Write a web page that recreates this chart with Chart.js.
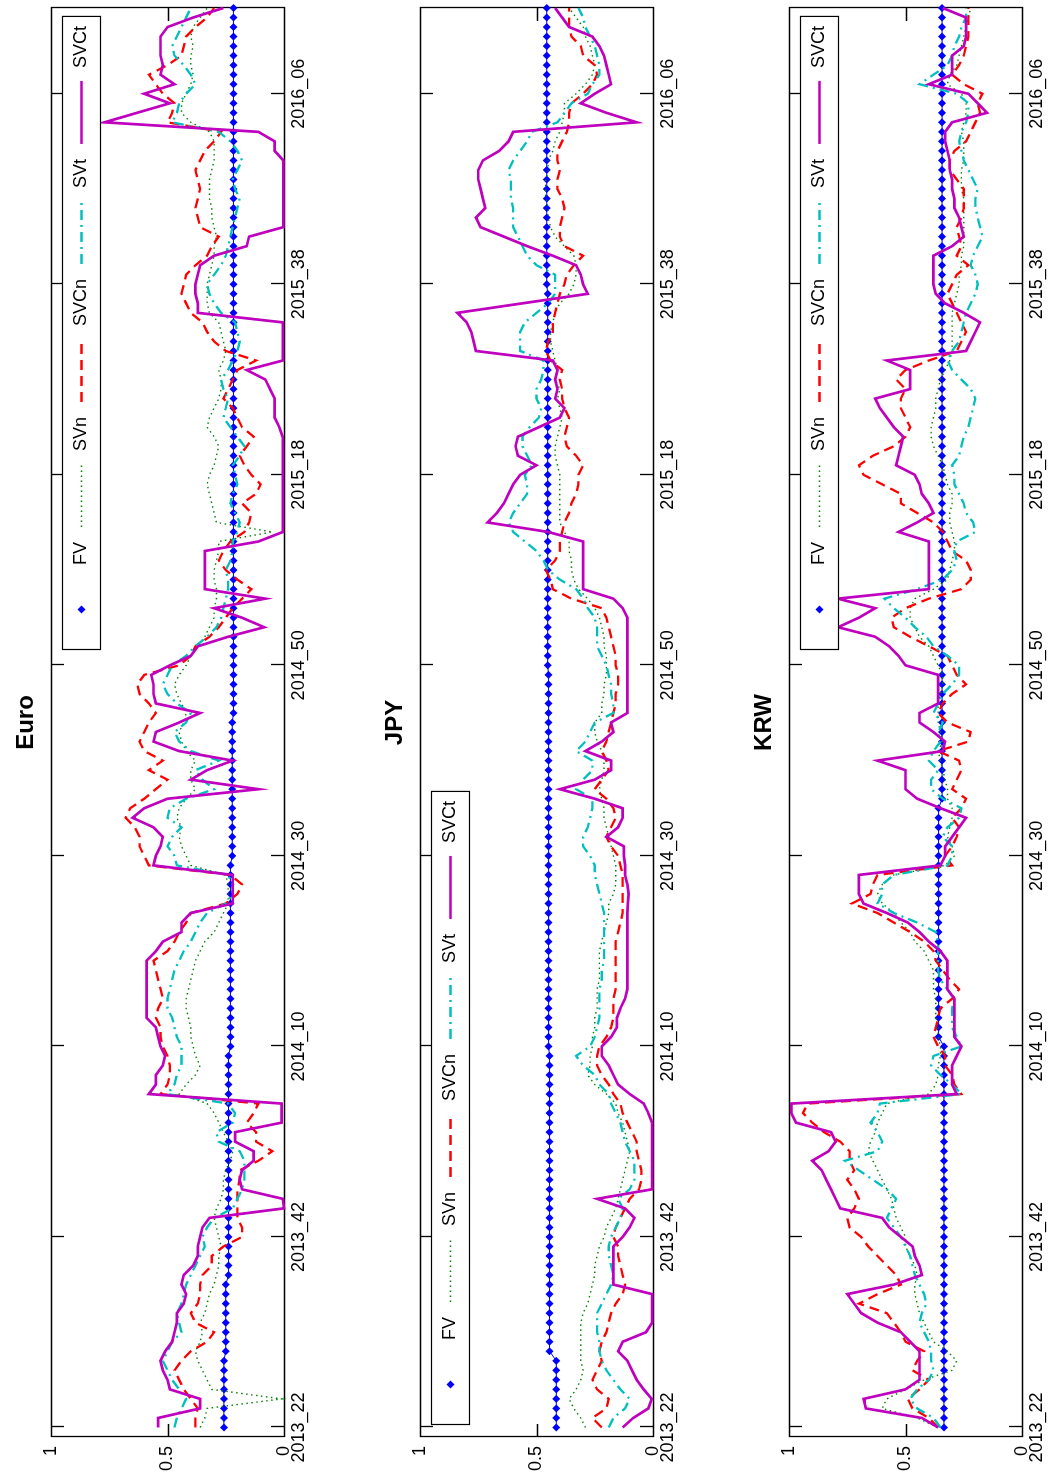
<!DOCTYPE html>
<html>
<head>
<meta charset="utf-8">
<script src="https://cdn.jsdelivr.net/npm/chart.js@4.4.1/dist/chart.umd.min.js"></script>
<style>
  html, body { margin: 0; padding: 0; background: #fff; overflow: hidden; width: 1057px; height: 1479px; }
  /* the figure is laid out landscape and turned a quarter turn counter-clockwise */
  #figure { position: absolute; left: 0; top: 1479px; width: 1479px; height: 1057px;
            transform-origin: 0 0; transform: rotate(-90deg); background: #fff; }
  #figure canvas { position: absolute; left: 0; }
</style>
</head>
<body>
<div id="figure">
  <canvas id="cEuro" width="1479" height="350" style="top:0px"></canvas>
  <canvas id="cJPY"  width="1479" height="350" style="top:369px"></canvas>
  <canvas id="cKRW"  width="1479" height="350" style="top:738px"></canvas>
</div>
<script>
// ---- weekly sample index and axis labels ----
const weekIndex = Array.from({ length: 150 }, (_, k) => k + 1);
const tickIndex = [1, 21, 41, 61, 81, 101, 121, 141];
const tickLabels = ['2013_22', '2013_42', '2014_10', '2014_30', '2014_50', '2015_18', '2015_38', '2016_06'];
const yTickValues = [0, 0.5, 1];
const yTickLabels = ['0', '0.5', '1'];
const seriesNames = ['FV', 'SVn', 'SVCn', 'SVt', 'SVCt'];

// ---- Euro ----
const euroFV = [
0.258,0.258,0.258,0.258,0.258,0.258,0.258,0.258,0.250,0.250,
0.250,0.250,0.250,0.250,0.250,0.250,0.238,0.238,0.238,0.238,
0.238,0.238,0.238,0.238,0.238,0.238,0.238,0.238,0.238,0.238,
0.238,0.238,0.238,0.238,0.238,0.238,0.238,0.238,0.238,0.238,
0.230,0.230,0.230,0.230,0.230,0.230,0.230,0.230,0.230,0.230,
0.230,0.230,0.230,0.230,0.230,0.230,0.230,0.230,0.230,0.230,
0.222,0.222,0.222,0.222,0.222,0.222,0.222,0.222,0.222,0.222,
0.222,0.222,0.222,0.222,0.222,0.217,0.217,0.217,0.217,0.217,
0.217,0.217,0.217,0.217,0.217,0.217,0.217,0.217,0.217,0.217,
0.217,0.217,0.217,0.217,0.217,0.217,0.217,0.217,0.217,0.217,
0.217,0.217,0.217,0.217,0.217,0.217,0.217,0.217,0.217,0.217,
0.217,0.217,0.217,0.217,0.217,0.217,0.217,0.217,0.217,0.217,
0.217,0.217,0.217,0.217,0.217,0.217,0.217,0.217,0.217,0.217,
0.217,0.217,0.217,0.217,0.217,0.217,0.217,0.217,0.217,0.217,
0.217,0.217,0.217,0.217,0.217,0.217,0.217,0.217,0.217,0.217];
const euroSVn = [
0.36,0.34,0.33,0.01,0.31,0.33,0.35,0.37,0.38,0.36,
0.35,0.36,0.34,0.33,0.32,0.30,0.29,0.28,0.28,0.27,
0.28,0.29,0.30,0.29,0.27,0.26,0.26,0.25,0.23,0.22,
0.24,0.26,0.28,0.30,0.33,0.45,0.42,0.38,0.36,0.38,
0.39,0.40,0.40,0.41,0.42,0.42,0.41,0.40,0.39,0.38,
0.36,0.34,0.30,0.28,0.26,0.24,0.24,0.24,0.25,0.40,
0.42,0.44,0.45,0.44,0.46,0.45,0.42,0.38,0.40,0.40,
0.38,0.42,0.44,0.45,0.43,0.42,0.44,0.46,0.47,0.45,
0.42,0.40,0.37,0.34,0.32,0.30,0.30,0.29,0.29,0.30,
0.30,0.29,0.28,0.28,0.05,0.29,0.30,0.31,0.32,0.33,
0.32,0.30,0.29,0.28,0.30,0.33,0.32,0.30,0.28,0.27,
0.27,0.28,0.26,0.25,0.26,0.27,0.28,0.32,0.33,0.33,
0.33,0.32,0.31,0.30,0.30,0.29,0.30,0.31,0.31,0.32,
0.32,0.32,0.31,0.30,0.30,0.30,0.32,0.40,0.44,0.44,
0.42,0.40,0.39,0.40,0.40,0.39,0.40,0.39,0.36,0.33];
const euroSVCn = [
0.38,0.38,0.37,0.40,0.43,0.45,0.47,0.44,0.40,0.33,
0.30,0.38,0.40,0.37,0.36,0.36,0.35,0.31,0.31,0.26,
0.18,0.18,0.20,0.20,0.20,0.20,0.19,0.19,0.11,0.05,
0.12,0.12,0.16,0.13,0.11,0.53,0.50,0.49,0.49,0.50,
0.52,0.53,0.53,0.55,0.54,0.52,0.53,0.54,0.55,0.56,
0.50,0.47,0.45,0.42,0.40,0.25,0.20,0.18,0.23,0.58,
0.60,0.62,0.62,0.64,0.68,0.66,0.60,0.55,0.50,0.58,
0.52,0.60,0.62,0.60,0.58,0.55,0.58,0.62,0.63,0.60,
0.45,0.40,0.38,0.32,0.28,0.25,0.22,0.18,0.14,0.20,
0.25,0.28,0.26,0.23,0.17,0.15,0.14,0.18,0.12,0.10,
0.14,0.17,0.19,0.16,0.13,0.18,0.20,0.22,0.26,0.24,
0.22,0.20,0.12,0.25,0.30,0.33,0.35,0.40,0.42,0.44,
0.43,0.42,0.38,0.33,0.31,0.28,0.36,0.37,0.38,0.37,
0.36,0.37,0.38,0.36,0.34,0.30,0.27,0.50,0.48,0.47,
0.52,0.55,0.58,0.50,0.44,0.43,0.42,0.38,0.33,0.30];
const euroSVt = [
0.47,0.46,0.44,0.42,0.45,0.48,0.50,0.52,0.50,0.48,
0.44,0.45,0.46,0.44,0.43,0.42,0.40,0.38,0.36,0.34,
0.35,0.33,0.30,0.22,0.20,0.18,0.17,0.17,0.17,0.19,
0.28,0.29,0.22,0.21,0.24,0.50,0.47,0.46,0.44,0.44,
0.44,0.46,0.47,0.48,0.50,0.50,0.49,0.48,0.47,0.45,
0.43,0.40,0.38,0.36,0.33,0.25,0.22,0.22,0.24,0.46,
0.47,0.50,0.48,0.44,0.50,0.49,0.42,0.30,0.35,0.38,
0.28,0.40,0.45,0.47,0.42,0.40,0.46,0.50,0.52,0.50,
0.48,0.42,0.38,0.33,0.29,0.27,0.26,0.25,0.24,0.24,
0.25,0.23,0.22,0.22,0.20,0.19,0.21,0.23,0.22,0.20,
0.21,0.22,0.19,0.17,0.20,0.23,0.26,0.25,0.24,0.26,
0.27,0.24,0.22,0.20,0.19,0.20,0.21,0.27,0.30,0.32,
0.33,0.30,0.27,0.25,0.24,0.23,0.22,0.21,0.20,0.19,
0.21,0.22,0.20,0.18,0.20,0.23,0.28,0.48,0.46,0.45,
0.42,0.38,0.40,0.43,0.47,0.48,0.46,0.44,0.42,0.40];
const euroSVCt = [
0.54,0.54,0.36,0.36,0.49,0.50,0.52,0.53,0.51,0.48,
0.47,0.46,0.46,0.43,0.42,0.44,0.43,0.39,0.37,0.37,
0.36,0.35,0.32,0.00,0.005,0.18,0.19,0.18,0.13,0.13,
0.21,0.21,0.01,0.01,0.01,0.58,0.55,0.55,0.52,0.51,
0.53,0.54,0.55,0.59,0.59,0.59,0.59,0.59,0.59,0.59,
0.55,0.52,0.44,0.44,0.40,0.22,0.22,0.22,0.22,0.56,
0.55,0.53,0.52,0.56,0.65,0.60,0.50,0.11,0.40,0.33,
0.22,0.45,0.56,0.55,0.45,0.36,0.55,0.56,0.56,0.57,
0.49,0.40,0.37,0.24,0.085,0.18,0.30,0.08,0.34,0.34,
0.34,0.34,0.34,0.11,0.005,0.005,0.005,0.005,0.005,0.005,
0.005,0.005,0.005,0.005,0.006,0.02,0.04,0.04,0.04,0.06,
0.08,0.16,0.005,0.005,0.005,0.005,0.005,0.37,0.37,0.38,
0.38,0.37,0.36,0.30,0.16,0.15,0.003,0.003,0.003,0.003,
0.003,0.003,0.003,0.003,0.04,0.04,0.11,0.77,0.63,0.49,
0.60,0.47,0.53,0.52,0.53,0.53,0.53,0.50,0.39,0.26];

// ---- JPY ----
const jpyFV = [
0.415,0.415,0.415,0.415,0.415,0.415,0.415,0.415,0.444,0.444,
0.444,0.444,0.444,0.444,0.444,0.444,0.444,0.444,0.444,0.444,
0.444,0.444,0.444,0.444,0.444,0.444,0.444,0.444,0.444,0.444,
0.444,0.444,0.444,0.444,0.444,0.444,0.444,0.444,0.444,0.444,
0.448,0.448,0.448,0.448,0.448,0.448,0.448,0.448,0.448,0.448,
0.448,0.448,0.448,0.448,0.448,0.448,0.448,0.448,0.448,0.448,
0.448,0.448,0.448,0.448,0.448,0.448,0.448,0.448,0.448,0.448,
0.448,0.448,0.448,0.448,0.448,0.448,0.448,0.448,0.448,0.448,
0.452,0.452,0.452,0.452,0.452,0.452,0.452,0.452,0.452,0.452,
0.452,0.452,0.452,0.452,0.452,0.452,0.452,0.452,0.452,0.452,
0.452,0.452,0.452,0.452,0.452,0.452,0.452,0.452,0.452,0.452,
0.452,0.452,0.452,0.452,0.452,0.452,0.452,0.452,0.452,0.452,
0.456,0.456,0.456,0.456,0.456,0.456,0.456,0.456,0.456,0.456,
0.456,0.456,0.456,0.456,0.456,0.456,0.456,0.456,0.456,0.456,
0.456,0.456,0.456,0.456,0.456,0.456,0.456,0.456,0.456,0.456];
const jpySVn = [
0.29,0.31,0.34,0.36,0.33,0.31,0.30,0.31,0.31,0.31,
0.31,0.31,0.30,0.28,0.27,0.26,0.25,0.25,0.24,0.23,
0.21,0.20,0.18,0.16,0.15,0.14,0.13,0.12,0.11,0.10,
0.11,0.12,0.13,0.15,0.16,0.20,0.25,0.28,0.27,0.27,
0.26,0.26,0.25,0.25,0.24,0.24,0.24,0.23,0.23,0.23,
0.23,0.22,0.21,0.20,0.19,0.19,0.17,0.16,0.16,0.16,
0.17,0.18,0.19,0.20,0.21,0.21,0.22,0.23,0.22,0.21,
0.21,0.22,0.24,0.25,0.25,0.22,0.22,0.21,0.21,0.20,
0.20,0.20,0.21,0.21,0.22,0.23,0.25,0.28,0.32,0.34,
0.35,0.35,0.36,0.36,0.38,0.40,0.40,0.40,0.40,0.40,
0.40,0.41,0.42,0.42,0.41,0.40,0.39,0.40,0.41,0.40,
0.42,0.41,0.42,0.43,0.44,0.44,0.43,0.42,0.40,0.36,
0.34,0.33,0.33,0.34,0.38,0.42,0.44,0.45,0.45,0.46,
0.46,0.46,0.45,0.45,0.43,0.42,0.40,0.39,0.38,0.38,
0.33,0.29,0.26,0.25,0.26,0.27,0.29,0.30,0.33,0.36];
const jpySVCn = [
0.22,0.26,0.20,0.19,0.24,0.26,0.24,0.22,0.23,0.22,
0.20,0.19,0.18,0.16,0.13,0.12,0.13,0.14,0.15,0.15,
0.17,0.16,0.14,0.12,0.10,0.06,0.05,0.05,0.06,0.07,
0.07,0.09,0.11,0.13,0.14,0.17,0.19,0.22,0.24,0.24,
0.23,0.20,0.18,0.17,0.17,0.17,0.16,0.16,0.16,0.16,
0.16,0.16,0.15,0.14,0.13,0.13,0.13,0.13,0.13,0.14,
0.15,0.18,0.20,0.18,0.16,0.17,0.20,0.25,0.22,0.19,
0.20,0.22,0.20,0.19,0.18,0.17,0.16,0.16,0.15,0.15,
0.16,0.16,0.17,0.18,0.19,0.20,0.22,0.35,0.43,0.44,
0.46,0.42,0.40,0.40,0.39,0.38,0.36,0.35,0.33,0.32,
0.32,0.30,0.33,0.37,0.38,0.37,0.36,0.38,0.39,0.39,
0.40,0.39,0.44,0.46,0.45,0.43,0.43,0.42,0.41,0.40,
0.38,0.37,0.34,0.30,0.38,0.40,0.40,0.39,0.38,0.39,
0.41,0.41,0.40,0.41,0.41,0.39,0.37,0.36,0.36,0.35,
0.30,0.26,0.24,0.25,0.30,0.31,0.35,0.36,0.36,0.36];
const jpySVt = [
0.19,0.17,0.12,0.10,0.14,0.17,0.20,0.22,0.23,0.23,
0.24,0.24,0.24,0.22,0.20,0.18,0.17,0.18,0.19,0.19,
0.18,0.16,0.14,0.13,0.15,0.10,0.08,0.08,0.08,0.10,
0.12,0.13,0.14,0.16,0.18,0.19,0.23,0.25,0.30,0.33,
0.27,0.25,0.24,0.23,0.23,0.23,0.23,0.22,0.22,0.21,
0.21,0.21,0.21,0.21,0.21,0.22,0.23,0.24,0.25,0.25,
0.27,0.30,0.30,0.28,0.27,0.26,0.26,0.33,0.30,0.26,
0.26,0.33,0.29,0.27,0.25,0.17,0.17,0.18,0.18,0.19,
0.20,0.22,0.24,0.24,0.24,0.25,0.28,0.30,0.33,0.40,
0.45,0.47,0.50,0.55,0.60,0.62,0.60,0.57,0.54,0.54,
0.55,0.52,0.54,0.56,0.56,0.53,0.49,0.48,0.50,0.50,
0.48,0.47,0.47,0.57,0.57,0.57,0.55,0.50,0.45,0.42,
0.42,0.42,0.50,0.54,0.56,0.58,0.60,0.60,0.60,0.61,
0.61,0.61,0.62,0.60,0.57,0.54,0.52,0.41,0.38,0.35,
0.28,0.26,0.23,0.23,0.24,0.25,0.27,0.29,0.30,0.32];
const jpySVCt = [
0.13,0.085,0.02,0.005,0.04,0.07,0.09,0.11,0.15,0.13,
0.03,0.004,0.004,0.004,0.004,0.17,0.17,0.17,0.17,0.17,
0.13,0.10,0.08,0.12,0.24,0.004,0.004,0.004,0.004,0.004,
0.004,0.004,0.004,0.02,0.04,0.10,0.15,0.17,0.19,0.22,
0.22,0.18,0.155,0.155,0.14,0.12,0.11,0.11,0.11,0.11,
0.11,0.11,0.11,0.11,0.11,0.108,0.105,0.11,0.12,0.12,
0.125,0.125,0.20,0.15,0.13,0.13,0.25,0.40,0.25,0.18,
0.18,0.29,0.22,0.17,0.18,0.11,0.11,0.11,0.11,0.11,
0.11,0.11,0.11,0.11,0.11,0.11,0.13,0.17,0.30,0.30,
0.30,0.30,0.30,0.30,0.45,0.71,0.67,0.64,0.62,0.60,
0.57,0.50,0.58,0.59,0.58,0.49,0.40,0.38,0.42,0.41,
0.42,0.41,0.43,0.76,0.77,0.78,0.80,0.84,0.56,0.28,
0.30,0.31,0.33,0.43,0.54,0.64,0.74,0.76,0.72,0.73,
0.74,0.75,0.75,0.73,0.66,0.62,0.60,0.07,0.20,0.31,
0.25,0.18,0.19,0.20,0.21,0.23,0.26,0.36,0.39,0.42];

// ---- KRW ----
const krwFV = [
0.335,0.335,0.335,0.335,0.335,0.335,0.335,0.335,0.335,0.335,
0.335,0.335,0.335,0.335,0.335,0.335,0.335,0.335,0.335,0.335,
0.335,0.335,0.335,0.335,0.335,0.335,0.335,0.335,0.335,0.335,
0.335,0.335,0.335,0.335,0.335,0.335,0.335,0.335,0.335,0.335,
0.335,0.358,0.358,0.358,0.358,0.358,0.358,0.358,0.358,0.358,
0.358,0.358,0.358,0.358,0.358,0.358,0.358,0.358,0.358,0.358,
0.358,0.358,0.358,0.358,0.358,0.358,0.343,0.343,0.343,0.343,
0.343,0.343,0.343,0.343,0.343,0.343,0.343,0.343,0.343,0.343,
0.343,0.343,0.343,0.343,0.343,0.343,0.343,0.343,0.343,0.343,
0.343,0.343,0.343,0.343,0.343,0.343,0.343,0.343,0.343,0.343,
0.343,0.343,0.343,0.343,0.343,0.343,0.343,0.343,0.343,0.343,
0.343,0.343,0.343,0.343,0.343,0.343,0.343,0.343,0.343,0.343,
0.343,0.343,0.343,0.343,0.343,0.343,0.343,0.343,0.343,0.343,
0.343,0.343,0.343,0.343,0.343,0.343,0.343,0.343,0.343,0.343,
0.343,0.343,0.343,0.343,0.343,0.343,0.343,0.343,0.343,0.343];
const krwSVn = [
0.36,0.45,0.60,0.58,0.50,0.42,0.30,0.28,0.32,0.38,
0.40,0.42,0.44,0.45,0.46,0.46,0.45,0.46,0.48,0.50,
0.50,0.52,0.54,0.55,0.56,0.58,0.60,0.62,0.64,0.66,
0.65,0.63,0.62,0.60,0.58,0.40,0.37,0.36,0.36,0.35,
0.35,0.36,0.36,0.37,0.37,0.37,0.38,0.38,0.38,0.40,
0.42,0.46,0.48,0.52,0.55,0.60,0.62,0.60,0.55,0.33,
0.29,0.30,0.32,0.31,0.30,0.30,0.32,0.32,0.33,0.34,
0.35,0.36,0.34,0.35,0.36,0.36,0.36,0.35,0.34,0.34,
0.36,0.38,0.40,0.44,0.46,0.48,0.48,0.46,0.38,0.32,
0.31,0.30,0.29,0.29,0.30,0.31,0.31,0.30,0.30,0.32,
0.33,0.34,0.36,0.38,0.39,0.39,0.38,0.37,0.37,0.36,
0.35,0.33,0.31,0.30,0.30,0.30,0.30,0.30,0.29,0.28,
0.27,0.27,0.26,0.26,0.25,0.25,0.25,0.25,0.25,0.25,
0.26,0.26,0.26,0.25,0.25,0.25,0.26,0.25,0.24,0.24,
0.26,0.32,0.31,0.28,0.27,0.26,0.25,0.24,0.23,0.22];
const krwSVCn = [
0.36,0.40,0.47,0.49,0.44,0.40,0.47,0.45,0.42,0.50,
0.52,0.55,0.58,0.70,0.62,0.52,0.54,0.58,0.62,0.66,
0.69,0.74,0.75,0.72,0.70,0.72,0.75,0.72,0.74,0.74,
0.78,0.85,0.90,0.94,0.92,0.26,0.29,0.30,0.33,0.33,
0.36,0.38,0.37,0.36,0.35,0.30,0.27,0.31,0.34,0.37,
0.38,0.42,0.48,0.55,0.62,0.73,0.65,0.64,0.62,0.30,
0.33,0.30,0.28,0.27,0.30,0.26,0.24,0.30,0.28,0.26,
0.27,0.36,0.23,0.22,0.32,0.36,0.34,0.30,0.24,0.28,
0.30,0.32,0.40,0.48,0.55,0.56,0.50,0.40,0.26,0.22,
0.22,0.24,0.30,0.32,0.34,0.38,0.45,0.52,0.52,0.60,
0.68,0.70,0.64,0.55,0.50,0.48,0.50,0.52,0.52,0.50,
0.54,0.50,0.40,0.28,0.26,0.24,0.26,0.28,0.30,0.32,
0.30,0.28,0.23,0.28,0.26,0.27,0.28,0.26,0.25,0.25,
0.25,0.28,0.31,0.31,0.29,0.24,0.22,0.20,0.18,0.19,
0.17,0.25,0.30,0.27,0.25,0.24,0.23,0.23,0.23,0.23];
const krwSVt = [
0.35,0.38,0.45,0.48,0.45,0.40,0.38,0.39,0.39,0.40,
0.42,0.44,0.43,0.41,0.42,0.44,0.46,0.47,0.48,0.50,
0.52,0.55,0.58,0.56,0.54,0.58,0.64,0.70,0.76,0.62,
0.60,0.62,0.65,0.62,0.61,0.26,0.30,0.35,0.39,0.38,
0.26,0.28,0.30,0.30,0.30,0.29,0.32,0.35,0.36,0.36,
0.36,0.36,0.37,0.45,0.55,0.62,0.60,0.60,0.55,0.32,
0.30,0.30,0.34,0.32,0.27,0.26,0.34,0.39,0.39,0.36,
0.40,0.38,0.35,0.36,0.34,0.38,0.36,0.34,0.30,0.27,
0.27,0.32,0.38,0.41,0.46,0.50,0.55,0.59,0.45,0.34,
0.30,0.28,0.29,0.28,0.20,0.21,0.24,0.25,0.27,0.29,
0.29,0.30,0.27,0.26,0.25,0.23,0.22,0.21,0.20,0.22,
0.26,0.30,0.32,0.30,0.27,0.26,0.25,0.24,0.22,0.20,
0.19,0.20,0.22,0.21,0.19,0.17,0.18,0.19,0.20,0.20,
0.19,0.21,0.23,0.25,0.26,0.27,0.26,0.24,0.23,0.23,
0.28,0.44,0.38,0.32,0.30,0.29,0.27,0.26,0.24,0.24];
const krwSVCt = [
0.36,0.43,0.67,0.68,0.50,0.44,0.44,0.44,0.44,0.48,
0.52,0.62,0.69,0.72,0.75,0.55,0.43,0.44,0.46,0.47,
0.52,0.57,0.60,0.78,0.80,0.82,0.84,0.86,0.90,0.83,
0.80,0.82,0.97,0.99,0.99,0.28,0.30,0.30,0.30,0.28,
0.26,0.29,0.29,0.29,0.29,0.29,0.32,0.32,0.32,0.32,
0.35,0.40,0.44,0.49,0.58,0.68,0.70,0.70,0.70,0.35,
0.33,0.33,0.30,0.27,0.24,0.35,0.45,0.50,0.50,0.50,
0.62,0.34,0.33,0.38,0.44,0.44,0.36,0.36,0.36,0.36,
0.50,0.53,0.57,0.63,0.79,0.70,0.63,0.79,0.40,0.40,
0.40,0.40,0.40,0.40,0.53,0.45,0.38,0.40,0.43,0.44,
0.46,0.54,0.53,0.52,0.51,0.55,0.58,0.61,0.63,0.48,
0.48,0.48,0.58,0.24,0.22,0.20,0.18,0.25,0.33,0.37,
0.38,0.38,0.38,0.38,0.30,0.25,0.26,0.27,0.29,0.29,
0.30,0.30,0.31,0.31,0.32,0.33,0.33,0.30,0.15,0.19,
0.23,0.40,0.30,0.30,0.30,0.25,0.24,0.24,0.24,0.34];

// ---- styling ----
const FONT = '"Liberation Sans", Arial, Helvetica, sans-serif';
const TICK_LEN = 13;

const axesFrame = {
  id: 'axesFrame',
  beforeDatasetsDraw(chart) {
    const { ctx, chartArea: a, scales: { x, y } } = chart;
    ctx.save();
    ctx.strokeStyle = '#000';
    ctx.lineWidth = 1.3;
    ctx.beginPath();
    ctx.rect(Math.round(a.left) + 0.5, Math.round(a.top) + 0.5,
             Math.round(a.right - a.left), Math.round(a.bottom - a.top));
    x.ticks.forEach(t => {
      const px = Math.round(x.getPixelForValue(t.value)) + 0.5;
      ctx.moveTo(px, a.bottom); ctx.lineTo(px, a.bottom - TICK_LEN);
      ctx.moveTo(px, a.top); ctx.lineTo(px, a.top + TICK_LEN);
    });
    y.ticks.forEach(t => {
      const py = Math.round(y.getPixelForValue(t.value)) + 0.5;
      ctx.moveTo(a.left, py); ctx.lineTo(a.left + TICK_LEN, py);
      ctx.moveTo(a.right, py); ctx.lineTo(a.right - TICK_LEN, py);
    });
    ctx.stroke();
    ctx.restore();
  }
};

const panelTitle = {
  id: 'panelTitle',
  afterDraw(chart, args, opts) {
    const { ctx, chartArea: a } = chart;
    ctx.save();
    ctx.font = 'bold 24px ' + FONT;
    ctx.fillStyle = '#000';
    ctx.textAlign = 'center';
    ctx.textBaseline = 'alphabetic';
    ctx.fillText(opts.text, (a.left + a.right) / 2, a.top - 18);
    ctx.restore();
  }
};

const boxLegend = {
  id: 'boxLegend',
  afterDraw(chart, args, opts) {
    const { ctx, chartArea: a } = chart;
    const ds = chart.data.datasets;
    const lineLen = 63, gapText = 13, gapItem = 15, pad = 9, h = 38;
    ctx.save();
    ctx.font = '18px ' + FONT;
    const widths = ds.map(d => ctx.measureText(d.label).width);
    let w = pad * 2;
    ds.forEach((d, k) => { w += lineLen + gapText + widths[k] + (k < ds.length - 1 ? gapItem : 0); });
    const top = Math.round(a.top + 11);
    const left = Math.round(opts.side === 'left' ? a.left + 12 : a.right - 9 - w);
    ctx.fillStyle = '#fff';
    ctx.fillRect(left, top, w, h);
    ctx.strokeStyle = '#000';
    ctx.lineWidth = 1.2;
    ctx.strokeRect(left + 0.5, top + 0.5, w, h);
    const cy = top + h / 2 + 0.5;
    let x = left + pad;
    ds.forEach((d, k) => {
      if (d.legendMarkerOnly) {
        const cx = x + lineLen / 2, r = d.pointRadius;
        ctx.fillStyle = d.pointBackgroundColor;
        ctx.beginPath();
        ctx.moveTo(cx - r, cy); ctx.lineTo(cx, cy - r); ctx.lineTo(cx + r, cy); ctx.lineTo(cx, cy + r);
        ctx.closePath(); ctx.fill();
      } else {
        ctx.strokeStyle = d.borderColor;
        ctx.lineWidth = d.borderWidth;
        ctx.setLineDash(d.borderDash || []);
        ctx.beginPath(); ctx.moveTo(x, cy); ctx.lineTo(x + lineLen, cy); ctx.stroke();
        ctx.setLineDash([]);
      }
      ctx.fillStyle = '#000';
      ctx.textAlign = 'left';
      ctx.textBaseline = 'middle';
      ctx.fillText(d.label, x + lineLen + gapText, cy);
      x += lineLen + gapText + widths[k] + gapItem;
    });
    ctx.restore();
  }
};

function toPoints(values) {
  return weekIndex.map((wk, k) => ({ x: wk, y: values[k] }));
}

function makePanel(canvasId, title, fv, svn, svcn, svt, svct, legendSide) {
  return new Chart(document.getElementById(canvasId), {
    type: 'line',
    data: {
      datasets: [
        { label: seriesNames[0], data: toPoints(fv), borderColor: '#0000ff', borderWidth: 1,
          pointStyle: 'rectRot', pointRadius: 4, pointBackgroundColor: '#0000ff',
          pointBorderColor: '#0000ff', pointBorderWidth: 0, legendMarkerOnly: true, order: 5 },
        { label: seriesNames[1], data: toPoints(svn), borderColor: '#008000', borderWidth: 1.4,
          borderDash: [1.5, 3.5], pointRadius: 0, order: 4 },
        { label: seriesNames[2], data: toPoints(svcn), borderColor: '#ff0000', borderWidth: 2.3,
          borderDash: [10, 6], pointRadius: 0, order: 3 },
        { label: seriesNames[3], data: toPoints(svt), borderColor: '#00bfbf', borderWidth: 2.3,
          borderDash: [10, 5, 2, 5], pointRadius: 0, order: 2 },
        { label: seriesNames[4], data: toPoints(svct), borderColor: '#bf00bf', borderWidth: 2.7,
          pointRadius: 0, order: 1 }
      ]
    },
    options: {
      responsive: false,
      animation: false,
      devicePixelRatio: 1,
      layout: { padding: { top: 51, right: 8, left: 0, bottom: 0 } },
      elements: { line: { tension: 0, fill: false } },
      datasets: { line: { clip: 6 } },
      plugins: {
        legend: { display: false },
        tooltip: { enabled: false },
        panelTitle: { text: title },
        boxLegend: { side: legendSide }
      },
      scales: {
        x: {
          type: 'linear', min: 0, max: 150,
          afterBuildTicks: s => { s.ticks = tickIndex.map(v => ({ value: v })); },
          afterFit: s => { s.height = 66; },
          grid: { display: false, drawTicks: false },
          border: { display: false },
          ticks: {
            autoSkip: false, maxRotation: 0, minRotation: 0, padding: 4,
            color: '#000', font: { family: FONT, size: 18 },
            callback: (v, i) => tickLabels[i]
          }
        },
        y: {
          type: 'linear', min: 0, max: 1,
          afterBuildTicks: s => { s.ticks = yTickValues.map(v => ({ value: v })); },
          afterFit: s => { s.width = 42; },
          grid: { display: false, drawTicks: false },
          border: { display: false },
          ticks: {
            padding: 9, color: '#000', font: { family: FONT, size: 18 },
            callback: (v, i) => yTickLabels[i]
          }
        }
      }
    },
    plugins: [axesFrame, panelTitle, boxLegend]
  });
}

makePanel('cEuro', 'Euro', euroFV, euroSVn, euroSVCn, euroSVt, euroSVCt, 'right');
makePanel('cJPY', 'JPY', jpyFV, jpySVn, jpySVCn, jpySVt, jpySVCt, 'left');
makePanel('cKRW', 'KRW', krwFV, krwSVn, krwSVCn, krwSVt, krwSVCt, 'right');
</script>
</body>
</html>
